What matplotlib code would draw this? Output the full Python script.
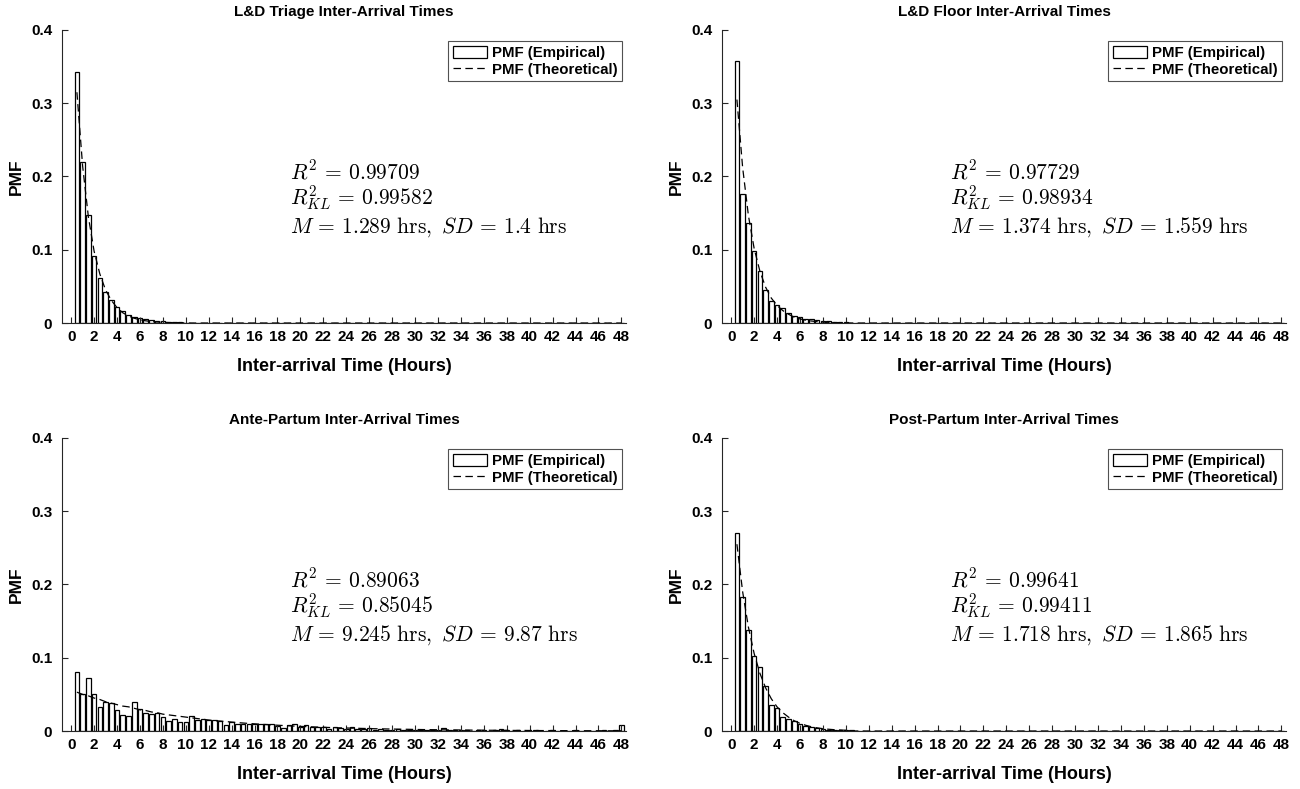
import numpy as np
import matplotlib
matplotlib.use("Agg")
import matplotlib.pyplot as plt

plt.rcParams["font.family"] = ["Liberation Sans", "DejaVu Sans"]
plt.rcParams["font.weight"] = "bold"
plt.rcParams["mathtext.fontset"] = "cm"

N_BINS = 96
bins = np.arange(1, N_BINS + 1) * 0.5   # bin centres in hours

# empirical / fitted PMFs per unit (bins not listed are empty)
triage_emp = [0.342, 0.220, 0.147, 0.091, 0.061, 0.042, 0.032, 0.022, 0.017, 0.011,
              0.0087, 0.0068, 0.005, 0.004, 0.003, 0.0022, 0.0016, 0.0012, 0.0009, 0.0006,
              0.0005, 0.0003, 0.0002, 0.0002]
triage_fit = [0.315, 0.214, 0.145, 0.098, 0.067, 0.045, 0.031, 0.021, 0.014, 0.0096,
              0.0065, 0.0044, 0.003, 0.002, 0.0014, 0.0009, 0.0006, 0.0004, 0.0003, 0.0002]

floor_emp = [0.357, 0.176, 0.137, 0.098, 0.071, 0.045, 0.030, 0.024, 0.020, 0.013,
             0.010, 0.008, 0.006, 0.005, 0.004, 0.003, 0.0022, 0.0016, 0.0012, 0.0009,
             0.0006, 0.0004, 0.0003, 0.0002]
floor_fit = [0.305, 0.212, 0.147, 0.102, 0.071, 0.049, 0.034, 0.024, 0.017, 0.012,
             0.008, 0.0056, 0.0039, 0.0027, 0.0019, 0.0013, 0.0009, 0.0006, 0.0004, 0.0003]

ante_emp = [0.080, 0.050, 0.072, 0.051, 0.033, 0.040, 0.038, 0.028, 0.022, 0.021,
            0.039, 0.030, 0.025, 0.023, 0.024, 0.019, 0.013, 0.017, 0.012, 0.012,
            0.020, 0.015, 0.016, 0.015, 0.015, 0.013, 0.008, 0.012, 0.010, 0.009,
            0.010, 0.009, 0.009, 0.009, 0.010, 0.007, 0.004, 0.008, 0.009, 0.006,
            0.008, 0.005, 0.005, 0.006, 0.003, 0.006, 0.004, 0.003, 0.005, 0.003,
            0.003, 0.004, 0.002, 0.003, 0.002, 0.002, 0.003, 0.001, 0.002, 0.002,
            0.001, 0.002, 0.001, 0.001, 0.004, 0.001, 0.001, 0.002, 0.001, 0.000,
            0.001, 0.001, 0.000, 0.001, 0.003, 0.001, 0.000, 0.001, 0.000, 0.000,
            0.001, 0.000, 0.000, 0.001, 0.000, 0.000, 0.000, 0.001, 0.000, 0.000,
            0.000, 0.000, 0.001, 0.000, 0.001, 0.008]
ante_fit = [0.053, 0.050, 0.048, 0.045, 0.043, 0.040, 0.038, 0.036, 0.034, 0.033,
            0.031, 0.029, 0.028, 0.026, 0.025, 0.023, 0.022, 0.021, 0.020, 0.019,
            0.018, 0.017, 0.016, 0.015, 0.014, 0.0136, 0.0129, 0.0122, 0.0115, 0.0109,
            0.0103, 0.0098, 0.0093, 0.0088, 0.0083, 0.0079, 0.0075, 0.0071, 0.0067, 0.0063,
            0.0060, 0.0057, 0.0054, 0.0051, 0.0048, 0.0046, 0.0043, 0.0041, 0.0039, 0.0037,
            0.0035, 0.0033, 0.0031, 0.0030, 0.0028, 0.0027, 0.0025, 0.0024, 0.0023, 0.0021,
            0.0020, 0.0019, 0.0018, 0.0017, 0.0016, 0.0015, 0.0015, 0.0014, 0.0013, 0.0012,
            0.0012, 0.0011, 0.0010, 0.0010, 0.0009, 0.0009, 0.0008, 0.0008, 0.0008, 0.0007,
            0.0007, 0.0006, 0.0006, 0.0006, 0.0005, 0.0005, 0.0005, 0.0004, 0.0004, 0.0004,
            0.0004, 0.0004, 0.0003, 0.0003, 0.0003, 0.0003]

post_emp = [0.270, 0.183, 0.138, 0.102, 0.087, 0.061, 0.035, 0.032, 0.019, 0.017,
            0.013, 0.009, 0.007, 0.005, 0.004, 0.003, 0.002, 0.0016, 0.0012, 0.0009,
            0.0007, 0.0005, 0.0004, 0.0003]
post_fit = [0.255, 0.190, 0.142, 0.106, 0.079, 0.059, 0.044, 0.033, 0.025, 0.019,
            0.014, 0.0104, 0.0078, 0.0058, 0.0043, 0.0032, 0.0024, 0.0018, 0.0014, 0.001]

titles = ["L&D Triage Inter-Arrival Times", "L&D Floor Inter-Arrival Times",
          "Ante-Partum Inter-Arrival Times", "Post-Partum Inter-Arrival Times"]
r2 = ["0.99709", "0.97729", "0.89063", "0.99641"]
r2_kl = ["0.99582", "0.98934", "0.85045", "0.99411"]
means = ["1.289", "1.374", "9.245", "1.718"]
sds = ["1.4", "1.559", "9.87", "1.865"]


def full(vals):
    out = np.zeros(N_BINS)
    out[:len(vals)] = vals
    return out


panels = [(triage_emp, triage_fit), (floor_emp, floor_fit),
          (ante_emp, ante_fit), (post_emp, post_fit)]

fig = plt.figure(figsize=(13, 7.89), dpi=100)
pos = [(0.0477, 0.5906), (0.5554, 0.5906), (0.0477, 0.0735), (0.5554, 0.0735)]

for i, (emp, fit) in enumerate(panels):
    ax = fig.add_axes([pos[i][0], pos[i][1], 0.4338, 0.3714])
    bars = ax.bar(bins, full(emp), width=0.4, color="white", edgecolor="black",
                  linewidth=0.9)
    line, = ax.plot(bins, full(fit), "--", color="black", linewidth=0.9,
                    dashes=(6, 3.5))
    ax.set_xlim(-0.8, 48.4)
    ax.set_ylim(0, 0.4)
    ax.set_xticks(np.arange(0, 49, 2))
    ax.set_yticks([0, 0.1, 0.2, 0.3, 0.4])
    ax.set_yticklabels(["0", "0.1", "0.2", "0.3", "0.4"])
    for s in ["top", "right"]:
        ax.spines[s].set_visible(False)
    for s in ["left", "bottom"]:
        ax.spines[s].set_color("#262626")
        ax.spines[s].set_linewidth(0.8)
    ax.tick_params(direction="in", length=4, width=0.8, colors="#262626",
                   labelsize=11, labelcolor="black")
    ax.tick_params(axis="y", pad=7)
    ax.tick_params(axis="x", pad=5)
    for lbl in ax.get_xticklabels() + ax.get_yticklabels():
        lbl.set_fontweight("bold")
    ax.set_title(titles[i], fontsize=11, fontweight="bold", pad=10)
    ax.set_xlabel("Inter-arrival Time (Hours)", fontsize=13, fontweight="bold", labelpad=10)
    ax.set_ylabel("PMF", fontsize=12.5, fontweight="bold", labelpad=5)

    # fit statistics, one line each
    lines = [r"$R^2\,=\,%s$" % r2[i],
             r"$R^2_{KL}\,=\,%s$" % r2_kl[i],
             r"$M\,=\,%s\ \mathrm{hrs},\ SD\,=\,%s\ \mathrm{hrs}$" % (means[i], sds[i])]
    for txt, yb in zip(lines, [0.1962, 0.1611, 0.1233]):
        ax.text(19.05, yb, txt, fontsize=15.5, va="baseline", ha="left")

    leg = ax.legend([bars, line], ["PMF (Empirical)", "PMF (Theoretical)"],
                    loc="upper right", bbox_to_anchor=(0.993, 0.962), fontsize=10.8,
                    frameon=True, fancybox=False, edgecolor="#262626",
                    handlelength=2.3, handleheight=0.9, handletextpad=0.3,
                    borderpad=0.3, labelspacing=0.15, borderaxespad=0)
    leg.get_frame().set_linewidth(0.8)
    for t in leg.get_texts():
        t.set_fontweight("bold")

fig.savefig("out.png", dpi=100)
